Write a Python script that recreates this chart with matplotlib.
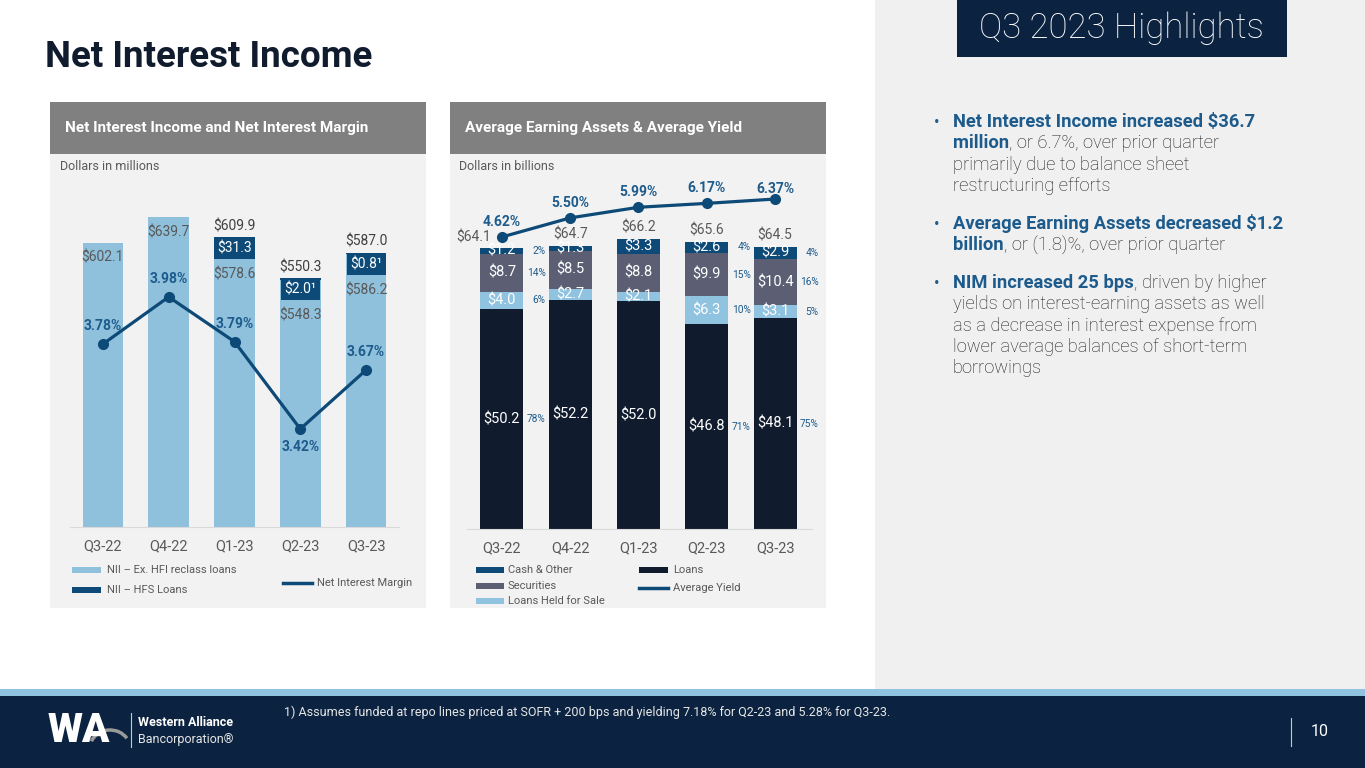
import matplotlib.pyplot as plt
from matplotlib.patches import Rectangle, Arc
from matplotlib.lines import Line2D
import numpy as np

plt.rcParams['font.family'] = ['Roboto', 'DejaVu Sans']

# ---------------- data ----------------
quarters = ['Q3-22', 'Q4-22', 'Q1-23', 'Q2-23', 'Q3-23']

# net interest income, $ millions
nii_ex_hfi = [602.1, 639.7, 578.6, 548.3, 586.2]
nii_hfs = [0.0, 0.0, 31.3, 2.0, 0.8]
hfs_note = ['', '', '', '¹', '¹']
nim = [3.78, 3.98, 3.79, 3.42, 3.67]
nim_side = [1, 1, 1, -1, 1]  # label above (1) or below (-1) the point

# average earning assets, $ billions
loans = [50.2, 52.2, 52.0, 46.8, 48.1]
loans_hfs = [4.0, 2.7, 2.1, 6.3, 3.1]
securities = [8.7, 8.5, 8.8, 9.9, 10.4]
cash_other = [1.2, 1.3, 3.3, 2.6, 2.9]
avg_yield = [4.62, 5.50, 5.99, 6.17, 6.37]
show_mix = [True, False, False, True, True]

# ---------------- colours ----------------
LIGHT = '#8fc0dc'
MID = '#0e4a77'
NAVY = '#101c2e'
SEC = '#5c5f74'
LHFS = '#8fc3df'
BLUE_TXT = '#1d5b8c'
GREY_TXT = '#595959'
DARK_TXT = '#404040'
FOOT = '#0b2340'

W, H = 1365, 768
fig = plt.figure(figsize=(W / 100, H / 100), dpi=100)
fig.patch.set_facecolor('white')

# full-figure axes in pixel coords for the slide furniture
bg = fig.add_axes([0, 0, 1, 1], zorder=-1)
bg.set_xlim(0, W)
bg.set_ylim(H, 0)
bg.axis('off')


def box(x0, y0, x1, y1, c):
    bg.add_patch(Rectangle((x0, y0), x1 - x0, y1 - y0, color=c, lw=0))


def px_axes(x0, y0, x1, y1):
    a = fig.add_axes([x0 / W, 1 - y1 / H, (x1 - x0) / W, (y1 - y0) / H], zorder=1)
    a.set_facecolor('none')
    return a


# backgrounds
box(875, 0, W, 690, '#f0f0f0')
box(0, 689, W, 696, '#8fc3e0')
box(0, 696, W, H, FOOT)
box(957, 0, 1287, 57, FOOT)

# panels
for x0 in (50, 450):
    box(x0, 102, x0 + 376, 154, '#808080')
    box(x0, 154, x0 + 376, 608, '#f2f2f2')

bg.text(45, 57, 'Net Interest Income', fontsize=26.5, fontweight='bold', color=NAVY, va='center')
bg.text(1121, 28, 'Q3 2023 Highlights', fontsize=25, fontweight='light', color='white',
        ha='center', va='center')
bg.text(65, 128, 'Net Interest Income and Net Interest Margin', fontsize=11, fontweight='bold',
        color='white', va='center')
bg.text(465, 128, 'Average Earning Assets & Average Yield', fontsize=11, fontweight='bold',
        color='white', va='center')
bg.text(60, 167, 'Dollars in millions', fontsize=9, color=GREY_TXT, va='center')
bg.text(459, 167, 'Dollars in billions', fontsize=9, color=GREY_TXT, va='center')

x = np.arange(len(quarters))

# ================= left chart: NII and NIM =================
ax1 = px_axes(70, 180, 399, 527)
ax1.bar(x, nii_ex_hfi, width=0.62, color=LIGHT, zorder=2)
ax1.bar(x, nii_hfs, bottom=nii_ex_hfi, width=0.62, color=MID, zorder=2)
ax1.set_xlim(-0.5, 4.5)
ax1.set_ylim(190, 693)
ax1.set_yticks([])
ax1.set_xticks(x, quarters)
ax1.tick_params(axis='x', length=0, pad=9, labelsize=10.5, labelcolor=GREY_TXT)
for s in ['top', 'left', 'right']:
    ax1.spines[s].set_visible(False)
ax1.spines['bottom'].set_color('#d9d9d9')

tot = np.array(nii_ex_hfi) + np.array(nii_hfs)
for i in x:
    if nii_hfs[i] > 0:
        ax1.annotate(f'${tot[i]:.1f}', (i, tot[i]), xytext=(0, 3), textcoords='offset points',
                     ha='center', va='bottom', fontsize=10, color=DARK_TXT)
        ax1.annotate(f'${nii_hfs[i]:.1f}{hfs_note[i]}', (i, tot[i]), xytext=(0, -8),
                     textcoords='offset points', ha='center', va='center', fontsize=10,
                     color='white', zorder=4,
                     bbox=dict(boxstyle='square,pad=0.25', fc=MID, ec='none'))
        ax1.annotate(f'${nii_ex_hfi[i]:.1f}', (i, tot[i]), xytext=(0, -27),
                     textcoords='offset points', ha='center', va='center', fontsize=10,
                     color=GREY_TXT)
    else:
        ax1.annotate(f'${nii_ex_hfi[i]:.1f}', (i, tot[i]), xytext=(0, -11),
                     textcoords='offset points', ha='center', va='center', fontsize=10,
                     color=GREY_TXT)

ax1b = ax1.twinx()
ax1b.plot(x, nim, color=MID, lw=2.3, marker='o', ms=7, zorder=3)
ax1b.set_ylim(3.004, 4.476)
ax1b.axis('off')
for i in x:
    ax1b.annotate(f'{nim[i]:.2f}%', (i, nim[i]), xytext=(0, 13 * nim_side[i]),
                  textcoords='offset points', ha='center', va='center', fontsize=10,
                  fontweight='bold', color=BLUE_TXT)

# legend
bg.add_patch(Rectangle((72, 567), 29, 6, color=LIGHT, lw=0))
bg.text(107, 570, 'NII – Ex. HFI reclass loans', fontsize=8, color=GREY_TXT, va='center')
bg.add_patch(Rectangle((72, 587), 29, 6, color=MID, lw=0))
bg.text(107, 590, 'NII – HFS Loans', fontsize=8, color=GREY_TXT, va='center')
bg.add_line(Line2D([283, 312], [583, 583], color=MID, lw=2.5))
bg.text(317, 583, 'Net Interest Margin', fontsize=8, color=GREY_TXT, va='center')

# ================= right chart: earning assets and yield =================
ax2 = px_axes(467, 180, 812, 529)
stack = [(loans, NAVY), (loans_hfs, LHFS), (securities, SEC), (cash_other, MID)]
bottom = np.zeros(len(quarters))
totals = np.array(loans) + np.array(loans_hfs) + np.array(securities) + np.array(cash_other)
for vals, col in stack:
    vals = np.array(vals)
    ax2.bar(x, vals, bottom=bottom, width=0.63, color=col, zorder=2)
    for i in x:
        ax2.text(i, bottom[i] + vals[i] / 2, f'${vals[i]:.1f}', ha='center', va='center',
                 fontsize=10.5, color='white', zorder=4)
        if show_mix[i]:
            share = round(100 * vals[i] / totals[i])
            ax2.text(i + 0.64, bottom[i] + vals[i] / 2, f'{share:.0f}%', ha='right',
                     va='center', fontsize=7.3, color=BLUE_TXT)
    bottom += vals

total_dx = [-20, 0, 0, 0, 0]
for i in x:
    ax2.annotate(f'${totals[i]:.1f}', (i, totals[i]), xytext=(total_dx[i], 3),
                 textcoords='offset points', ha='center', va='bottom', fontsize=10,
                 color=GREY_TXT)

ax2.set_xlim(-0.51, 4.54)
ax2.set_ylim(0, 79.7)
ax2.set_yticks([])
ax2.set_xticks(x, quarters)
ax2.tick_params(axis='x', length=0, pad=9, labelsize=10.5, labelcolor=GREY_TXT)
for s in ['top', 'left', 'right']:
    ax2.spines[s].set_visible(False)
ax2.spines['bottom'].set_color('#d9d9d9')

ax2b = ax2.twinx()
ax2b.plot(x, avg_yield, color=MID, lw=2.3, marker='o', ms=7, zorder=3)
ax2b.set_ylim(-8.84, 7.247)
ax2b.axis('off')
yield_dy = [11, 11, 11, 11, 7]
for i in x:
    ax2b.annotate(f'{avg_yield[i]:.2f}%', (i, avg_yield[i]), xytext=(0, yield_dy[i]),
                  textcoords='offset points', ha='center', va='center', fontsize=10,
                  fontweight='bold', color=BLUE_TXT)

# legend
bg.add_patch(Rectangle((476, 567), 28, 6, color=MID, lw=0))
bg.text(508, 570, 'Cash & Other', fontsize=8, color=GREY_TXT, va='center')
bg.add_patch(Rectangle((476, 583), 28, 6, color=SEC, lw=0))
bg.text(508, 586, 'Securities', fontsize=8, color=GREY_TXT, va='center')
bg.add_patch(Rectangle((476, 598), 28, 6, color=LHFS, lw=0))
bg.text(508, 601, 'Loans Held for Sale', fontsize=8, color=GREY_TXT, va='center')
bg.add_patch(Rectangle((639, 567), 29, 6, color=NAVY, lw=0))
bg.text(673, 570, 'Loans', fontsize=8, color=GREY_TXT, va='center')
bg.add_line(Line2D([639, 668], [588, 588], color=MID, lw=2.5))
bg.text(673, 588, 'Average Yield', fontsize=8, color=GREY_TXT, va='center')

# ================= highlights =================
bullets = [
    (127, [[('Net Interest Income increased $36.7', True)],
           [('million', True), (', or 6.7%, over prior quarter', False)],
           [('primarily due to balance sheet', False)],
           [('restructuring efforts', False)]]),
    (229, [[('Average Earning Assets decreased $1.2', True)],
           [('billion', True), (', or (1.8)%, over prior quarter', False)]]),
    (288, [[('NIM increased 25 bps', True), (', driven by higher', False)],
           [('yields on interest-earning assets as well', False)],
           [('as a decrease in interest expense from', False)],
           [('lower average balances of short-term', False)],
           [('borrowings', False)]]),
]
LINE = 21.3
for y0, lines in bullets:
    bg.text(937, y0, '•', fontsize=12, color=BLUE_TXT, va='baseline', ha='center')
    for k, parts in enumerate(lines):
        y = y0 + k * LINE
        prev = None
        for txt, bold in parts:
            kw = dict(fontsize=13.2, color=BLUE_TXT if bold else '#1e1e1e',
                      fontweight='bold' if bold else 'light')
            if prev is None:
                prev = bg.text(953, y, txt, va='baseline', **kw)
            else:
                prev = bg.annotate(txt, xy=(1, 0), xycoords=prev, va='bottom', ha='left', **kw)

# ================= footer =================
bg.text(284, 712, '1) Assumes funded at repo lines priced at SOFR + 200 bps and yielding '
        '7.18% for Q2-23 and 5.28% for Q3-23.', fontsize=9, color='#e6e6e6', va='center')
bg.add_line(Line2D([1291, 1291], [718, 746], color='#c8c8c8', lw=0.8))
bg.text(1320, 732, '10', fontsize=11.5, color='white', ha='center', va='center')

bg.text(48, 731, 'WA', fontsize=29, fontweight='heavy', color='white', va='center', ha='left')
bg.add_patch(Arc((110, 748), 40, 36, theta1=200, theta2=330, color='#9a9a9a', lw=2.5))
bg.add_line(Line2D([131, 131], [713, 747], color='#c8c8c8', lw=0.8))
bg.text(138, 723, 'Western Alliance', fontsize=9, fontweight='bold', color='white', va='center')
bg.text(138, 740, 'Bancorporation®', fontsize=9, color='#e6e6e6', va='center')

fig.savefig('out.png', dpi=100)
